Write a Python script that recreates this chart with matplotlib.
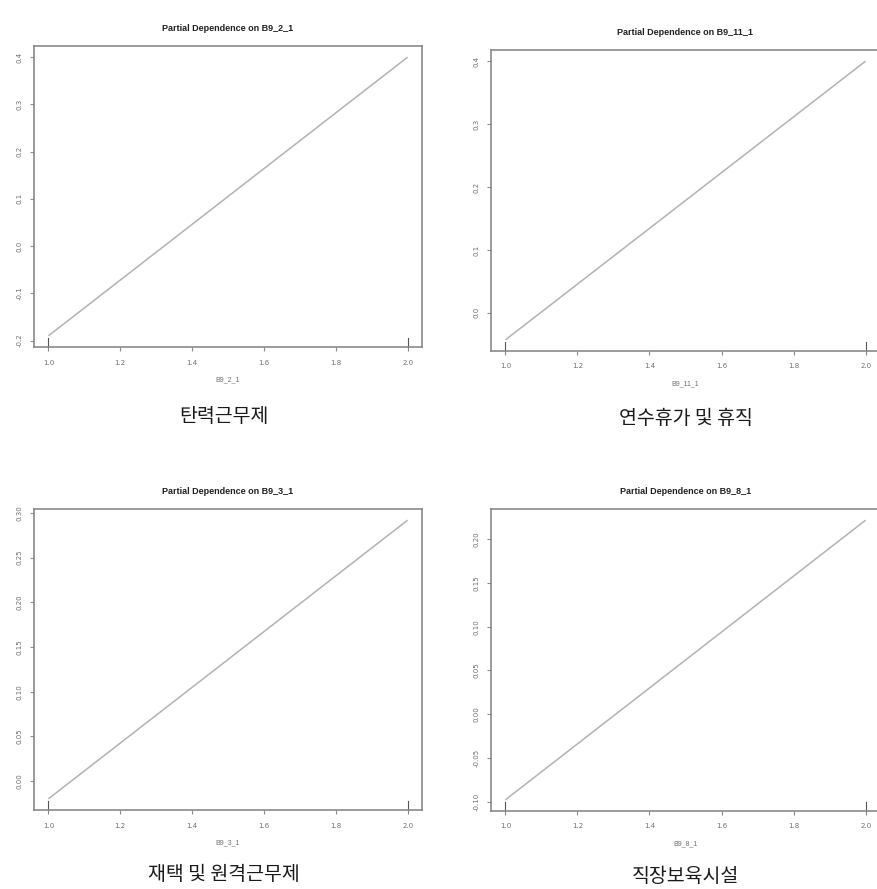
import matplotlib
matplotlib.use("Agg")
import matplotlib.pyplot as plt
import numpy as np

# Partial dependence of the outcome on four binary workplace-policy variables
variables = ["B9_2_1", "B9_11_1", "B9_3_1", "B9_8_1"]
captions = ["탄력근무제", "연수휴가 및 휴직", "재택 및 원격근무제", "직장보육시설"]
x_levels = [1.0, 2.0]
pd_b9_2_1 = [-0.190, 0.400]
pd_b9_11_1 = [-0.043, 0.400]
pd_b9_3_1 = [-0.020, 0.292]
pd_b9_8_1 = [-0.098, 0.222]
rug_values = [1.0, 2.0]

y_ticks = [
    [-0.2, -0.1, 0.0, 0.1, 0.2, 0.3, 0.4],
    [0.0, 0.1, 0.2, 0.3, 0.4],
    [0.00, 0.05, 0.10, 0.15, 0.20, 0.25, 0.30],
    [-0.10, -0.05, 0.00, 0.05, 0.10, 0.15, 0.20],
]
y_fmt = ["{:.1f}", "{:.1f}", "{:.2f}", "{:.2f}"]
x_ticks = [1.0, 1.2, 1.4, 1.6, 1.8, 2.0]
series = [pd_b9_2_1, pd_b9_11_1, pd_b9_3_1, pd_b9_8_1]

W, H = 877, 889
fig = plt.figure(figsize=(W / 100, H / 100), dpi=100)

# axes boxes in pixel coordinates: left, right, top, bottom
boxes = [(34, 422, 46, 347), (491, 880, 50, 351),
         (34, 422, 509, 810), (491, 880, 509, 811)]
caption_y = [417, 418, 875, 876]

box_col = "#8a8a8a"
line_col = "#b2b2b2"
text_col = "#6e6e6e"

for i, (l, r, t, b) in enumerate(boxes):
    ax = fig.add_axes([l / W, 1 - b / H, (r - l) / W, (b - t) / H])
    y = series[i]
    ax.plot(x_levels, y, color=line_col, lw=1.1, solid_capstyle="butt")

    # R-style 4% axis padding
    xr = x_levels[-1] - x_levels[0]
    ax.set_xlim(x_levels[0] - 0.04 * xr, x_levels[-1] + 0.04 * xr)
    yr = max(y) - min(y)
    ylo, yhi = min(y) - 0.04 * yr, max(y) + 0.04 * yr
    ax.set_ylim(ylo, yhi)

    # rug marks along the bottom
    for rv in rug_values:
        ax.plot([rv, rv], [ylo, ylo + 0.03 * (yhi - ylo)], color="#555555",
                lw=0.8, clip_on=False)

    for s in ax.spines.values():
        s.set_color(box_col)
        s.set_linewidth(1.2)

    ax.set_xticks(x_ticks)
    ax.set_xticklabels([f"{v:.1f}" for v in x_ticks])
    ax.set_yticks(y_ticks[i])
    ax.set_yticklabels([y_fmt[i].format(v) for v in y_ticks[i]],
                       rotation=90, va="center")
    ax.tick_params(axis="both", direction="out", length=3, width=0.8,
                   color=box_col, labelcolor=text_col, labelsize=5, pad=6)
    ax.tick_params(axis="y", pad=5)

    ax.set_title(f"Partial Dependence on {variables[i]}", fontsize=6.5,
                 fontweight="bold", family="Liberation Sans", color="#222222",
                 pad=11)
    ax.set_xlabel(variables[i], fontsize=5, color=text_col, labelpad=8,
                  family="Liberation Sans")

    cx = (l + r) / 2 - (4 if i % 2 == 0 else 0)
    fig.text(cx / W, 1 - caption_y[i] / H, captions[i], ha="center", va="center",
             fontsize=14, family=["Noto Sans CJK KR", "DejaVu Sans"],
             color="#1a1a1a")

fig.savefig("out.png", dpi=100, facecolor="white")
